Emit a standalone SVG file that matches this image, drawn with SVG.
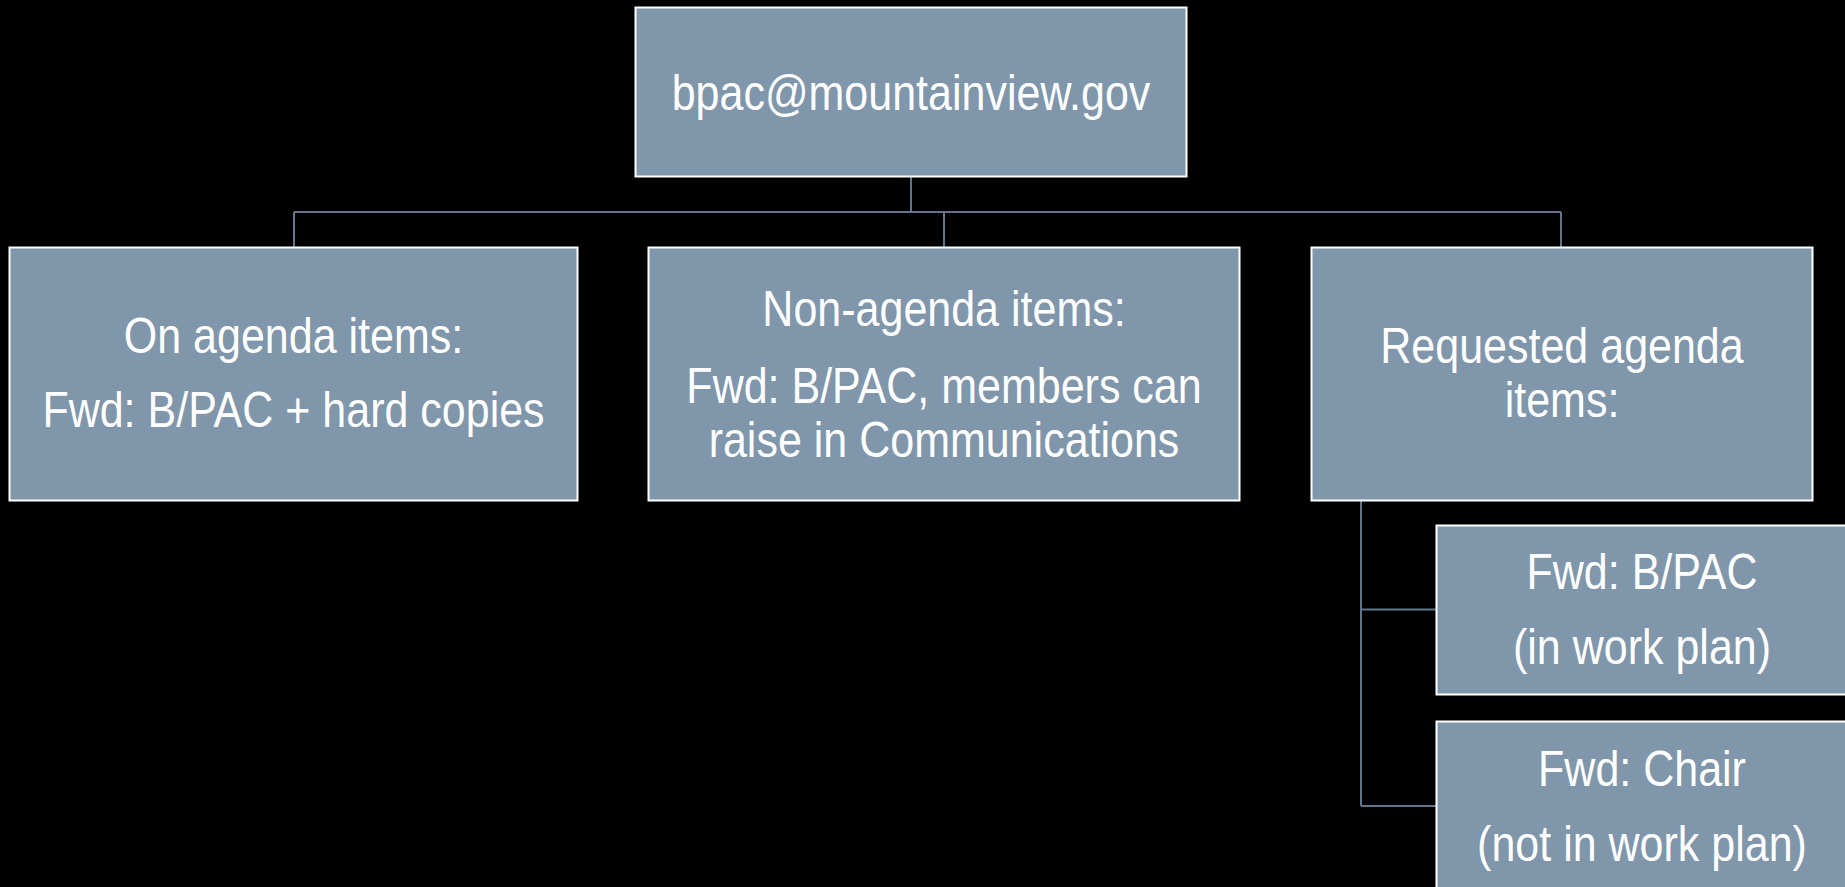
<svg xmlns="http://www.w3.org/2000/svg" width="1845" height="887" viewBox="0 0 1845 887">
<style>
.box{fill:#7f96ab;stroke:#ffffff;stroke-width:2}
.t{font-family:"Liberation Sans",Arial,sans-serif;font-size:50px;fill:#ffffff;text-anchor:middle}
.c{fill:none;stroke:#61768b;stroke-width:2}
</style>
<rect width="1845" height="887" fill="#000000"/>
<g id="connectors">
<path class="c" d="M911 176V212M294 212H1561M294 212V247M944 212V247M1561 212V247"/>
<path class="c" d="M1361 500V806M1361 609.5H1436M1361 806H1436"/>
</g>
<g id="root">
<rect class="box" x="635.5" y="7.5" width="551" height="169"/>
<text class="t" transform="translate(911 110) scale(0.86 1)">bpac@mountainview.gov</text>
</g>
<g id="on-agenda">
<rect class="box" x="9.5" y="247.5" width="568" height="253"/>
<text class="t" transform="translate(293.5 353) scale(0.86 1)">On agenda items:</text>
<text class="t" transform="translate(293.5 427) scale(0.86 1)">Fwd: B/PAC + hard copies</text>
</g>
<g id="non-agenda">
<rect class="box" x="648.5" y="247.5" width="591" height="253"/>
<text class="t" transform="translate(944 326) scale(0.86 1)">Non-agenda items:</text>
<text class="t" transform="translate(944 403) scale(0.86 1)">Fwd: B/PAC, members can</text>
<text class="t" transform="translate(944 457) scale(0.86 1)">raise in Communications</text>
</g>
<g id="requested">
<rect class="box" x="1311.5" y="247.5" width="501" height="253"/>
<text class="t" transform="translate(1562 363) scale(0.86 1)">Requested agenda</text>
<text class="t" transform="translate(1562 417) scale(0.86 1)">items:</text>
</g>
<g id="in-work-plan">
<rect class="box" x="1436.5" y="525.5" width="420" height="169"/>
<text class="t" transform="translate(1642 589) scale(0.86 1)">Fwd: B/PAC</text>
<text class="t" transform="translate(1642 664) scale(0.86 1)">(in work plan)</text>
</g>
<g id="not-in-work-plan">
<rect class="box" x="1436.5" y="721.5" width="420" height="180"/>
<text class="t" transform="translate(1642 786) scale(0.86 1)">Fwd: Chair</text>
<text class="t" transform="translate(1642 861) scale(0.86 1)">(not in work plan)</text>
</g>
</svg>
